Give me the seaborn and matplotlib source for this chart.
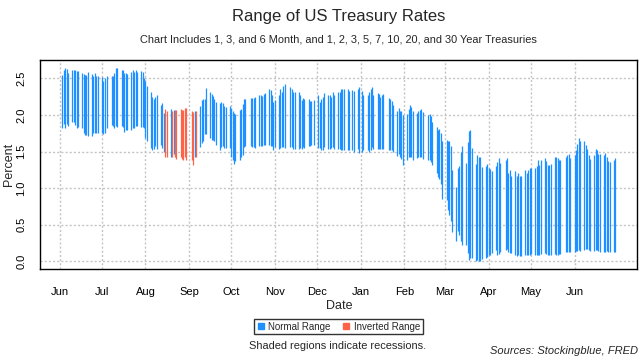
import pandas as pd
import matplotlib.pyplot as plt
import matplotlib.dates as mdates
from matplotlib.lines import Line2D
import seaborn as sns

# trading days, bond market holidays taken out
holidays = ['2019-07-04', '2019-09-02', '2019-10-14', '2019-11-11', '2019-11-28',
            '2019-12-25', '2020-01-01', '2020-01-20', '2020-02-17', '2020-04-10',
            '2020-05-25']
dates = pd.bdate_range('2019-06-03', '2020-06-30')
dates = dates[~dates.isin(pd.to_datetime(holidays))]

# highest and lowest treasury yield of each day, month by month
hi_jun19 = [2.55, 2.61, 2.64, 2.63, 2.57, 2.62, 2.62, 2.61, 2.60, 2.60,
            2.58, 2.56, 2.55, 2.55, 2.59, 2.56, 2.54, 2.57, 2.53, 2.53]
lo_jun19 = [1.82, 1.88, 1.82, 1.88, 1.85, 1.90, 1.91, 1.87, 1.82, 1.83,
            1.82, 1.75, 1.72, 1.73, 1.71, 1.71, 1.75, 1.76, 1.75, 1.75]
hi_jul19 = [2.52, 2.47, 2.50, 2.54, 2.54, 2.54, 2.57, 2.65, 2.65, 2.61, 2.61,
            2.57, 2.57, 2.56, 2.59, 2.61, 2.59, 2.61, 2.59, 2.60, 2.59, 2.51]
lo_jul19 = [1.75, 1.74, 1.76, 1.82, 1.86, 1.85, 1.82, 1.85, 1.83, 1.85, 1.83,
            1.77, 1.79, 1.79, 1.80, 1.82, 1.82, 1.85, 1.85, 1.83, 1.83, 1.82]
hi_aug19 = [2.47, 2.40, 2.31, 2.25, 2.22, 2.25, 2.27, 2.14, 2.16, 2.03, 2.08,
            2.06, 2.08, 2.06, 2.07, 2.07, 2.07, 2.08, 2.07, 2.07, 2.10, 2.10]
lo_aug19 = [1.68, 1.65, 1.55, 1.52, 1.53, 1.58, 1.53, 1.59, 1.55, 1.50, 1.42,
            1.42, 1.43, 1.42, 1.47, 1.42, 1.40, 1.43, 1.40, 1.39, 1.42, 1.39]
hi_sep19 = [2.05, 2.04, 2.05, 2.05, 2.12, 2.20, 2.22, 2.22, 2.37, 2.31,
            2.29, 2.26, 2.22, 2.18, 2.17, 2.18, 2.16, 2.13, 2.11, 2.12]
lo_sep19 = [1.39, 1.31, 1.42, 1.42, 1.56, 1.62, 1.64, 1.74, 1.74, 1.68,
            1.66, 1.66, 1.64, 1.59, 1.52, 1.56, 1.57, 1.55, 1.55, 1.55]
hi_oct19 = [2.10, 2.05, 2.03, 2.01, 2.07, 2.08, 2.15, 2.22, 2.22, 2.23, 2.23,
            2.23, 2.25, 2.28, 2.27, 2.26, 2.29, 2.30, 2.35, 2.34, 2.27, 2.18]
lo_oct19 = [1.43, 1.39, 1.33, 1.37, 1.38, 1.43, 1.45, 1.56, 1.58, 1.57, 1.56,
            1.56, 1.55, 1.58, 1.58, 1.57, 1.59, 1.59, 1.59, 1.58, 1.58, 1.52]
hi_nov19 = [2.21, 2.28, 2.35, 2.32, 2.40, 2.43, 2.39, 2.35, 2.31, 2.31,
            2.31, 2.27, 2.20, 2.23, 2.22, 2.22, 2.19, 2.19, 2.21]
lo_nov19 = [1.56, 1.53, 1.55, 1.56, 1.56, 1.55, 1.56, 1.56, 1.53, 1.53,
            1.53, 1.55, 1.53, 1.56, 1.55, 1.58, 1.58, 1.59, 1.59]
hi_dec19 = [2.28, 2.18, 2.22, 2.24, 2.30, 2.28, 2.27, 2.25, 2.32, 2.27, 2.31,
            2.31, 2.35, 2.35, 2.35, 2.35, 2.33, 2.34, 2.33, 2.35, 2.39]
lo_dec19 = [1.55, 1.55, 1.52, 1.52, 1.56, 1.53, 1.53, 1.55, 1.56, 1.53, 1.53,
            1.53, 1.52, 1.52, 1.52, 1.52, 1.52, 1.52, 1.50, 1.53, 1.48]
hi_jan20 = [2.33, 2.27, 2.28, 2.31, 2.35, 2.39, 2.28, 2.30, 2.29, 2.25, 2.27,
            2.29, 2.23, 2.22, 2.19, 2.14, 2.06, 2.10, 2.06, 2.05, 2.00]
lo_jan20 = [1.50, 1.52, 1.52, 1.50, 1.52, 1.56, 1.53, 1.53, 1.53, 1.53, 1.53,
            1.53, 1.52, 1.52, 1.52, 1.50, 1.44, 1.47, 1.43, 1.40, 1.31]
hi_feb20 = [2.01, 2.08, 2.14, 2.11, 2.05, 2.03, 2.05, 2.07, 2.08, 2.04,
            2.00, 2.02, 1.98, 1.91, 1.84, 1.80, 1.81, 1.76, 1.65]
lo_feb20 = [1.39, 1.43, 1.42, 1.43, 1.39, 1.41, 1.42, 1.43, 1.43, 1.40,
            1.38, 1.39, 1.36, 1.32, 1.20, 1.15, 1.12, 1.05, 0.85]
hi_mar20 = [1.66, 1.65, 1.64, 1.57, 1.25, 1.02, 1.27, 1.30, 1.50, 1.57, 1.35,
            1.63, 1.78, 1.79, 1.55, 1.33, 1.45, 1.43, 1.43, 1.29, 1.30, 1.33]
lo_mar20 = [0.84, 0.70, 0.63, 0.55, 0.40, 0.27, 0.41, 0.36, 0.28, 0.22, 0.22,
            0.11, 0.01, 0.04, 0.04, 0.00, 0.01, 0.00, 0.00, 0.03, 0.04, 0.06]
hi_apr20 = [1.27, 1.26, 1.24, 1.30, 1.36, 1.41, 1.35, 1.39, 1.41, 1.20, 1.25,
            1.17, 1.23, 1.17, 1.21, 1.16, 1.17, 1.25, 1.21, 1.25, 1.27]
lo_apr20 = [0.08, 0.08, 0.11, 0.15, 0.08, 0.10, 0.12, 0.15, 0.16, 0.13, 0.11,
            0.11, 0.08, 0.07, 0.08, 0.07, 0.07, 0.08, 0.09, 0.08, 0.08]
hi_may20 = [1.27, 1.28, 1.30, 1.38, 1.32, 1.39, 1.41, 1.37, 1.32, 1.31,
            1.33, 1.43, 1.42, 1.41, 1.39, 1.38, 1.43, 1.45, 1.47, 1.41]
lo_may20 = [0.10, 0.08, 0.09, 0.09, 0.09, 0.10, 0.11, 0.10, 0.09, 0.08,
            0.09, 0.10, 0.09, 0.09, 0.10, 0.10, 0.13, 0.13, 0.12, 0.12]
hi_jun20 = [1.45, 1.52, 1.61, 1.68, 1.64, 1.65, 1.59, 1.54, 1.45, 1.40, 1.45,
            1.54, 1.52, 1.47, 1.47, 1.45, 1.48, 1.43, 1.37, 1.36, 1.39, 1.41]
lo_jun20 = [0.13, 0.14, 0.14, 0.15, 0.14, 0.15, 0.16, 0.16, 0.15, 0.14, 0.14,
            0.15, 0.15, 0.14, 0.13, 0.13, 0.13, 0.14, 0.13, 0.12, 0.12, 0.13]

# days where the curve was inverted
inverted_days = ['2019-08-15', '2019-08-16', '2019-08-20', '2019-08-22', '2019-08-23',
                 '2019-08-26', '2019-08-27', '2019-08-28', '2019-08-29', '2019-08-30',
                 '2019-09-03', '2019-09-04', '2019-09-06']

high = (hi_jun19 + hi_jul19 + hi_aug19 + hi_sep19 + hi_oct19 + hi_nov19 + hi_dec19
        + hi_jan20 + hi_feb20 + hi_mar20 + hi_apr20 + hi_may20 + hi_jun20)
low = (lo_jun19 + lo_jul19 + lo_aug19 + lo_sep19 + lo_oct19 + lo_nov19 + lo_dec19
       + lo_jan20 + lo_feb20 + lo_mar20 + lo_apr20 + lo_may20 + lo_jun20)

df = pd.DataFrame({'date': dates, 'high': high, 'low': low})
df['day'] = range(len(df))
df['kind'] = 'Normal Range'
df.loc[df['date'].isin(pd.to_datetime(inverted_days)), 'kind'] = 'Inverted Range'
long = df.melt(id_vars=['date', 'day', 'kind'], value_vars=['low', 'high'], value_name='rate')

colors = {'Normal Range': '#1E90FF', 'Inverted Range': '#FF6347'}

sns.set_style('white')
plt.rcParams['font.family'] = ['Liberation Sans', 'DejaVu Sans']

fig = plt.figure(figsize=(6.4, 3.6), dpi=100)
ax = fig.add_axes([0.063, 0.253, 0.933, 0.581])

# one vertical segment per day, low to high
sns.lineplot(data=long, x='date', y='rate', units='day', estimator=None, hue='kind',
             palette=colors, linewidth=0.9, legend=False, ax=ax, solid_capstyle='butt')

# R-like 4% padding
span = dates[-1] - dates[0]
ax.set_xlim(dates[0] - span * 0.04, dates[-1] + span * 0.04)
ypad = (max(high) - min(low)) * 0.04
ax.set_ylim(min(low) - ypad, max(high) + ypad)

ax.set_xticks(pd.date_range('2019-06-01', '2020-06-01', freq='MS'))
ax.xaxis.set_major_formatter(mdates.DateFormatter('%b'))
yt = [0, 0.5, 1.0, 1.5, 2.0, 2.5]
ax.set_yticks(yt)
ax.set_yticklabels([f'{v:.1f}' for v in yt], rotation=90, va='center')

ax.grid(True, color='#c4c4c4', linestyle=(0, (1.5, 1.5)), linewidth=1.0)
ax.set_axisbelow(True)
for s in ax.spines.values():
    s.set_color('black')
    s.set_linewidth(1.0)
ax.tick_params(axis='both', direction='out', length=5, width=1, color='black',
               labelsize=8, labelcolor='black')
ax.tick_params(axis='x', pad=8)
ax.tick_params(axis='y', pad=5)

ax.set_xlabel('Date', fontsize=9)
ax.set_ylabel('Percent', fontsize=9)
ax.xaxis.set_label_coords(0.5, -0.177)
ax.xaxis.label.set_va('center')
ax.yaxis.set_label_coords(-0.052, 0.5)
ax.yaxis.label.set_va('center')

fig.text(0.529, 1 - 17 / 360, 'Range of US Treasury Rates', ha='center', va='center', fontsize=12)
fig.text(0.529, 1 - 40 / 360,
         'Chart Includes 1, 3, and 6 Month, and 1, 2, 3, 5, 7, 10, 20, and 30 Year Treasuries',
         ha='center', va='center', fontsize=7.9)

handles = [Line2D([], [], marker='s', linestyle='', color=colors[k], markersize=4.5, label=k)
           for k in ['Normal Range', 'Inverted Range']]
leg = fig.legend(handles=handles, loc='center', bbox_to_anchor=(0.529, 1 - 326.5 / 360), ncol=2,
                 fontsize=7, frameon=True, fancybox=False, edgecolor='black',
                 handlelength=0.8, handletextpad=0.4, columnspacing=1.2,
                 borderpad=0.3, borderaxespad=0)
leg.get_frame().set_linewidth(1.0)

fig.text(0.528, 1 - 346 / 360, 'Shaded regions indicate recessions.', ha='center', va='center', fontsize=7.9)
fig.text(0.997, 1 - 351 / 360, 'Sources: Stockingblue, FRED', ha='right', va='center',
         fontsize=8, style='italic')

fig.savefig('out.png', dpi=100)
